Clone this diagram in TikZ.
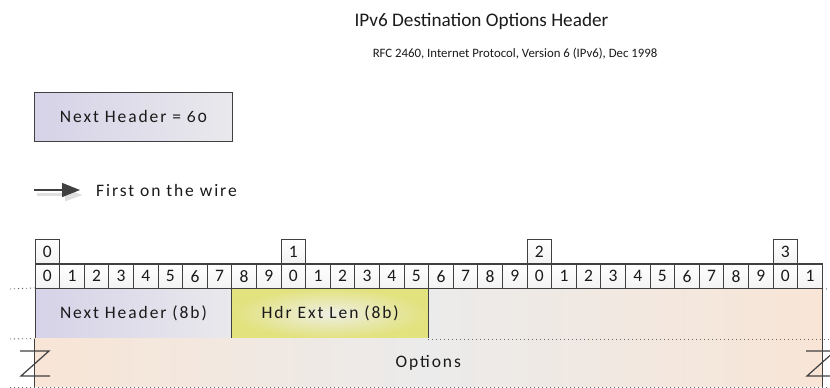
\documentclass[tikz,border=0pt]{standalone}
\usepackage{fontspec}
\setmainfont{Carlito}
\newfontfamily\widefont[LetterSpace=11]{Carlito}
\newfontfamily\oldfont[LetterSpace=11,Numbers=OldStyle]{Carlito}
\usetikzlibrary{arrows.meta}

\definecolor{boxline}{HTML}{404040}
\definecolor{textcol}{HTML}{1A1A1A}
\definecolor{lavender}{HTML}{D6D2E8}
\definecolor{palegray}{HTML}{E9E9EC}
\definecolor{fieldgray}{HTML}{EBEBEB}
\definecolor{peach}{HTML}{F8E5D6}
\definecolor{lenyellow}{HTML}{E2E27E}
\definecolor{lencentre}{HTML}{EEEEE4}

\tikzset{
  bitcell/.style={draw=boxline, line width=1.1pt, anchor=south west, inner sep=0pt,
    minimum width=24.6pt, minimum height=24.4pt, top color=white, bottom color=black!5,
    text=textcol, font=\fontsize{17.5}{17.5}\selectfont},
  fieldbox/.style={draw=boxline, line width=1.1pt, anchor=south west, inner sep=0pt,
    minimum height=50pt, text=textcol, font=\widefont\fontsize{17.5}{17.5}\selectfont},
  fillonly/.style={anchor=south west, inner sep=0pt},
  border/.style={boxline, line width=1.1pt},
  dotline/.style={black!60, line width=0.9pt, dash pattern=on 1.1pt off 2.9pt},
  zmark/.style={boxline, line width=1.2pt},
  label/.style={text=textcol, inner sep=0pt}
}

\begin{document}
\begin{tikzpicture}[x=1pt, y=1pt]
\useasboundingbox (0,0) rectangle (830,388);

% title
\node[label, font=\fontsize{19.2}{19.2}\selectfont] (title) at (481.5,367) {IPv6 Destination Options Header};
\node[label, font=\fontsize{12.8}{12.8}\selectfont] (subtitle) at (515,334) {RFC 2460, Internet Protocol, Version 6 (IPv6), Dec 1998};

% next header value
\node[fieldbox, font=\oldfont\fontsize{17.5}{17.5}\selectfont, minimum width=197.5pt, minimum height=49pt, left color=lavender, right color=palegray] (nhvalue) at (34,246) {Next Header = 60};

% first on the wire
\coordinate (wirestart) at (34,198);
\coordinate (wireend) at (80,198);
\draw[black!12, line width=3pt, -{Triangle[length=18pt,width=12pt]}] ([shift={(3,-5)}]wirestart) -- ([shift={(3,-5)}]wireend);
\draw[boxline, line width=1.2pt, -{Triangle[length=18pt,width=14pt]}] (wirestart) -- (wireend);
\node[label, anchor=west, font=\widefont\fontsize{17.5}{17.5}\selectfont] (wiretext) at (96,198) {First on the wire};

% fields, first word
\node[fillonly, minimum width=393.6pt, minimum height=50pt, left color=fieldgray, right color=peach] (restfield) at (428.1,49) {};
\node[fieldbox, minimum width=196.8pt, left color=lavender, right color=palegray] (nextheader) at (34.5,49) {Next Header (8b)};
\node[fieldbox, minimum width=196.8pt, inner color=lencentre, outer color=lenyellow] (hdrextlen) at (231.3,49) {Hdr Ext Len (8b)};

% options
\node[fillonly, minimum width=787.2pt, minimum height=48pt, left color=peach, right color=peach, middle color=fieldgray] (options) at (34.5,1) {};
\node[label, font=\widefont\fontsize{17.5}{17.5}\selectfont] (optionstext) at (options.center) {Options};

\draw[border] (restfield.north east) -- (restfield.south east);
\draw[border] (options.north west) -- (options.south west);
\draw[border] (options.north east) -- (options.south east);
\draw[dotline] (restfield.south west) -- (830,49);
\draw[dotline] (10,1) -- (830,1);
\draw[dotline] (10,49) -- (options.north west);
\draw[dotline] (10,99) -- (nextheader.north west);
\draw[dotline] (restfield.north east) -- (830,99);

% bit numbers
\node[bitcell] (bit0) at (34.5,99) {0};
\node[bitcell] (bit1) at (59.1,99) {1};
\node[bitcell] (bit2) at (83.7,99) {2};
\node[bitcell] (bit3) at (108.3,99) {3};
\node[bitcell] (bit4) at (132.9,99) {4};
\node[bitcell] (bit5) at (157.5,99) {5};
\node[bitcell] (bit6) at (182.1,99) {6};
\node[bitcell] (bit7) at (206.7,99) {7};
\node[bitcell] (bit8) at (231.3,99) {8};
\node[bitcell] (bit9) at (255.9,99) {9};
\node[bitcell] (bit10) at (280.5,99) {0};
\node[bitcell] (bit11) at (305.1,99) {1};
\node[bitcell] (bit12) at (329.7,99) {2};
\node[bitcell] (bit13) at (354.3,99) {3};
\node[bitcell] (bit14) at (378.9,99) {4};
\node[bitcell] (bit15) at (403.5,99) {5};
\node[bitcell] (bit16) at (428.1,99) {6};
\node[bitcell] (bit17) at (452.7,99) {7};
\node[bitcell] (bit18) at (477.3,99) {8};
\node[bitcell] (bit19) at (501.9,99) {9};
\node[bitcell] (bit20) at (526.5,99) {0};
\node[bitcell] (bit21) at (551.1,99) {1};
\node[bitcell] (bit22) at (575.7,99) {2};
\node[bitcell] (bit23) at (600.3,99) {3};
\node[bitcell] (bit24) at (624.9,99) {4};
\node[bitcell] (bit25) at (649.5,99) {5};
\node[bitcell] (bit26) at (674.1,99) {6};
\node[bitcell] (bit27) at (698.7,99) {7};
\node[bitcell] (bit28) at (723.3,99) {8};
\node[bitcell] (bit29) at (747.9,99) {9};
\node[bitcell] (bit30) at (772.5,99) {0};
\node[bitcell] (bit31) at (797.1,99) {1};

% tens
\node[bitcell] (ten0) at (34.5,123.4) {0};
\node[bitcell] (ten1) at (280.5,123.4) {1};
\node[bitcell] (ten2) at (526.5,123.4) {2};
\node[bitcell] (ten3) at (772.5,123.4) {3};

% breaks
\draw[zmark] (20,37) -- (49,37) -- (21,12) -- (50,12);
\draw[zmark] (806,37) -- (835,37) -- (807,12) -- (836,12);
\end{tikzpicture}
\end{document}
